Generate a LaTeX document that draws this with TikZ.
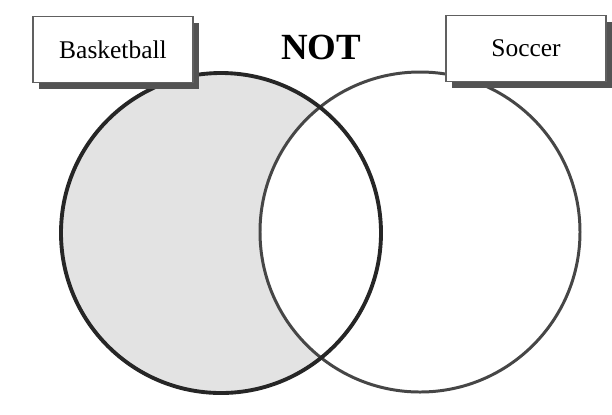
\documentclass[tikz,border=0pt]{standalone}
\usepackage{fontspec}
\setmainfont{Liberation Serif}
\usetikzlibrary{shadows}

\begin{document}
\begin{tikzpicture}[x=0.02cm, y=-0.02cm,
  setbox/.style={draw=gray!75!black, line width=0.9pt, fill=white,
    minimum width=3.2cm, minimum height=1.32cm,
    font=\fontsize{14.5}{16}\selectfont,
    drop shadow={shadow xshift=0.12cm, shadow yshift=-0.12cm,
      fill=gray!65!black, opacity=1}},
  bfill/.style={fill=gray!22}]
  \useasboundingbox (0,0) rectangle (612,414);
  \coordinate (LC) at (221,233);
  \coordinate (RC) at (420,232);
  % only basketball shaded
  \fill[bfill] (LC) circle (160);
  \begin{scope}
    \clip (LC) circle (160);
    \fill[white] (RC) circle (160);
  \end{scope}
  \draw[gray!55!black, line width=1.7pt] (RC) circle (160);
  \draw[black!85, line width=2.2pt] (LC) circle (160);
  % labels
  \node[setbox] (bball) at (113,49.5){Basketball};
  \node[setbox] (soccer) at (526,48.5){Soccer};
  \node[font=\fontsize{21}{24}\selectfont\bfseries] (nt) at (321,47){NOT};
\end{tikzpicture}
\end{document}
